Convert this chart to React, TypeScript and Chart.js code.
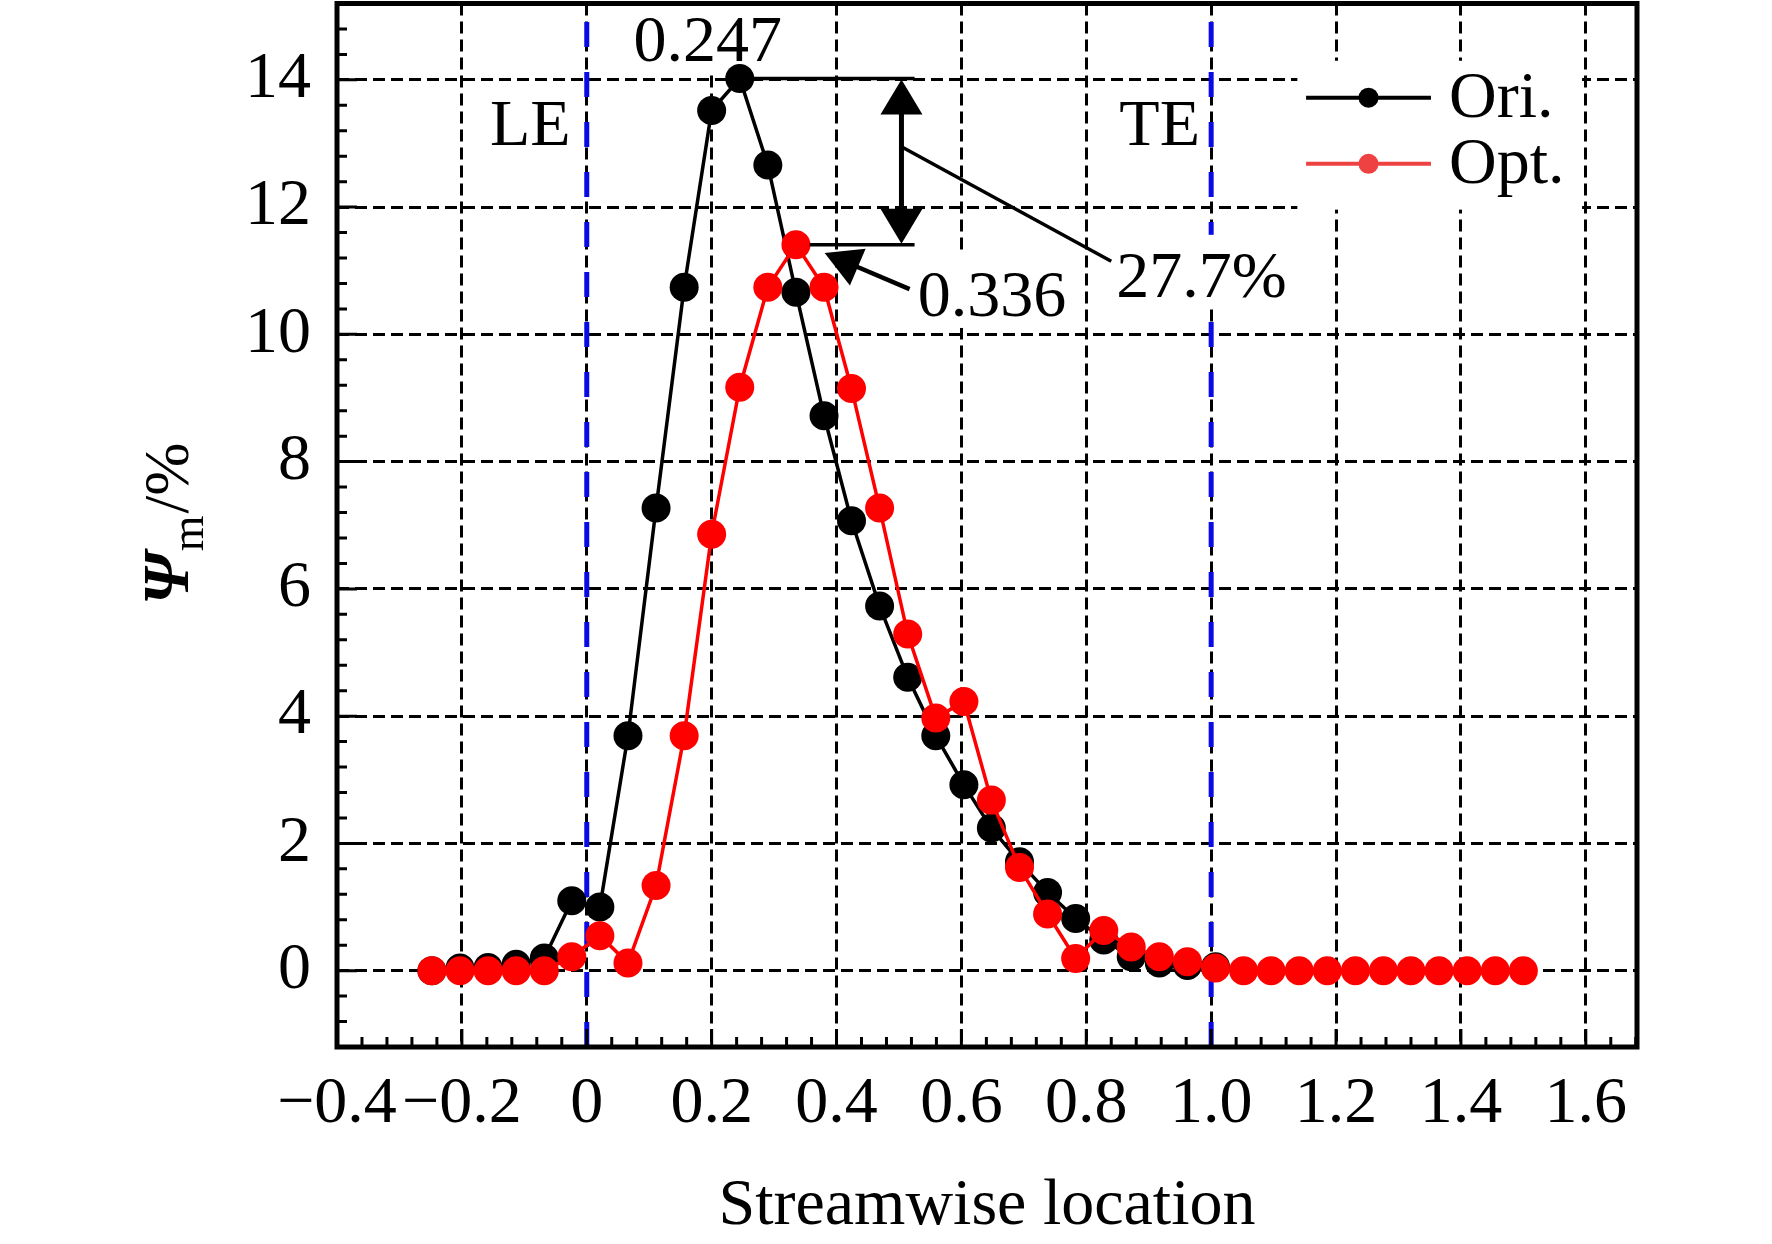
import { useEffect, useRef } from 'react';
import { Chart, registerables } from 'chart.js';

Chart.register(...registerables);

const FONT = '"Liberation Serif", "Times New Roman", serif';

// streamwise position of every sampling point
const locations = [
  -0.248, -0.203, -0.158, -0.113, -0.068, -0.024, 0.021, 0.066, 0.111, 0.156,
  0.2, 0.245, 0.29, 0.335, 0.38, 0.424, 0.469, 0.514, 0.559, 0.604,
  0.648, 0.693, 0.738, 0.783, 0.828, 0.872, 0.917, 0.962, 1.007, 1.052,
  1.096, 1.141, 1.186, 1.231, 1.276, 1.32, 1.365, 1.41, 1.455, 1.5,
];

// Psi_m (%) of the original blade
const oriValues = [
  0.0, 0.04, 0.05, 0.1, 0.2, 1.1, 1.0, 3.69, 7.27, 10.74,
  13.52, 14.02, 12.66, 10.66, 8.72, 7.07, 5.73, 4.61, 3.69, 2.92,
  2.24, 1.71, 1.23, 0.82, 0.48, 0.22, 0.12, 0.08, 0.06,
];

// Psi_m (%) of the optimised blade
const optValues = [
  0.0, 0.0, 0.0, 0.0, 0.0, 0.22, 0.55, 0.12, 1.34, 3.69,
  6.86, 9.17, 10.74, 11.41, 10.74, 9.15, 7.27, 5.29, 3.97, 4.23,
  2.68, 1.62, 0.89, 0.19, 0.63, 0.37, 0.22, 0.14, 0.04, 0.0,
  0.0, 0.0, 0.0, 0.0, 0.0, 0.0, 0.0, 0.0, 0.0, 0.0,
];

const xTicks = [-0.4, -0.2, 0, 0.2, 0.4, 0.6, 0.8, 1.0, 1.2, 1.4, 1.6];
const xTickLabels = ['\u22120.4', '\u22120.2', '0', '0.2', '0.4', '0.6', '0.8', '1.0', '1.2', '1.4', '1.6'];
const yTicks = [0, 2, 4, 6, 8, 10, 12, 14];
const yTickLabels = ['0', '2', '4', '6', '8', '10', '12', '14'];

// leading / trailing edge markers
const edgeLines = [0, 1.0];

const seriesNames = ['Ori.', 'Opt.'];
const lineColors = ['#000000', '#ff0000'];
const legendColors = ['#000000', '#ee4242'];

export default function App() {
  const canvasRef = useRef<HTMLCanvasElement | null>(null);

  useEffect(() => {
    if (!canvasRef.current) return;

    const oriPeak = Math.max(...oriValues);
    const optPeak = Math.max(...optValues);

    const textLabels = [
      { text: '0.247', x: 0.075, y: 14.3, box: true },
      { text: 'LE', x: -0.155, y: 12.98, box: false },
      { text: 'TE', x: 0.853, y: 12.98, box: false },
      { text: '0.336', x: 0.53, y: 10.29, box: true },
      { text: '27.7%', x: 0.848, y: 10.59, box: true },
    ];

    const arrowHead = (ctx: CanvasRenderingContext2D, tx: number, ty: number, fx: number, fy: number, len: number, half: number) => {
      const d = Math.hypot(tx - fx, ty - fy);
      const ux = (tx - fx) / d;
      const uy = (ty - fy) / d;
      const bx = tx - ux * len;
      const by = ty - uy * len;
      ctx.beginPath();
      ctx.moveTo(tx, ty);
      ctx.lineTo(bx - uy * half, by + ux * half);
      ctx.lineTo(bx + uy * half, by - ux * half);
      ctx.closePath();
      ctx.fill();
    };

    const decor = {
      id: 'decor',
      beforeDatasetsDraw(chart: any) {
        const { ctx, chartArea: a, scales } = chart;
        const x = scales.x;
        const y = scales.y;
        ctx.save();
        ctx.strokeStyle = '#0a0ae6';
        ctx.lineWidth = 5;
        ctx.setLineDash([25, 25]);
        for (const v of edgeLines) {
          const px = x.getPixelForValue(v);
          ctx.beginPath();
          ctx.moveTo(px, a.bottom);
          ctx.lineTo(px, a.top);
          ctx.stroke();
        }
        ctx.setLineDash([]);

        ctx.fillStyle = '#ffffff';
        ctx.font = `66px ${FONT}`;
        for (const t of textLabels) {
          if (!t.box) continue;
          const w = ctx.measureText(t.text).width;
          const px = x.getPixelForValue(t.x);
          const py = y.getPixelForValue(t.y);
          ctx.fillRect(px - 6, py - 62, w + 12, 74);
        }
        // legend background
        const lx0 = x.getPixelForValue(1.138);
        const lx1 = x.getPixelForValue(1.594);
        const ly0 = y.getPixelForValue(14.3);
        const ly1 = y.getPixelForValue(11.96);
        ctx.fillRect(lx0, ly0, lx1 - lx0, ly1 - ly0);
        ctx.restore();
      },
      afterDatasetsDraw(chart: any) {
        const { ctx, chartArea: a, scales } = chart;
        const x = scales.x;
        const y = scales.y;
        ctx.save();

        // inward ticks
        ctx.strokeStyle = '#000';
        ctx.lineWidth = 3;
        ctx.beginPath();
        for (let i = 0; ; i++) {
          const v = -0.4 + i * 0.04;
          if (v > x.max + 1e-6) break;
          const px = x.getPixelForValue(v);
          const len = i % 5 === 0 ? 18 : 10;
          ctx.moveTo(px, a.bottom);
          ctx.lineTo(px, a.bottom - len);
        }
        for (let i = 0; ; i++) {
          const v = -1.2 + i * 0.4;
          if (v > y.max + 1e-6) break;
          const py = y.getPixelForValue(v);
          const len = (i - 3) % 5 === 0 ? 20 : 10;
          ctx.moveTo(a.left, py);
          ctx.lineTo(a.left + len, py);
        }
        ctx.stroke();

        // frame
        ctx.lineWidth = 5;
        ctx.strokeRect(a.left, a.top, a.right - a.left, a.bottom - a.top);

        // peak difference annotation
        ctx.fillStyle = '#000';
        ctx.lineWidth = 3.5;
        const yo = y.getPixelForValue(oriPeak);
        const yp = y.getPixelForValue(optPeak);
        ctx.beginPath();
        ctx.moveTo(x.getPixelForValue(0.266), yo);
        ctx.lineTo(x.getPixelForValue(0.525), yo);
        ctx.moveTo(x.getPixelForValue(0.357), yp);
        ctx.lineTo(x.getPixelForValue(0.525), yp);
        ctx.stroke();

        const ax = x.getPixelForValue(0.504);
        ctx.lineWidth = 5;
        ctx.beginPath();
        ctx.moveTo(ax, yo + 20);
        ctx.lineTo(ax, yp - 20);
        ctx.stroke();
        arrowHead(ctx, ax, yo + 1, ax, yp, 35, 21);
        arrowHead(ctx, ax, yp - 1, ax, yo, 35, 21);

        ctx.lineWidth = 3.5;
        ctx.beginPath();
        ctx.moveTo(ax, y.getPixelForValue(12.95));
        ctx.lineTo(x.getPixelForValue(0.84), y.getPixelForValue(11.15));
        ctx.stroke();

        const tipX = x.getPixelForValue(0.381);
        const tipY = y.getPixelForValue(11.28);
        const tailX = x.getPixelForValue(0.517);
        const tailY = y.getPixelForValue(10.71);
        ctx.lineWidth = 4.5;
        ctx.beginPath();
        ctx.moveTo(tailX, tailY);
        const d = Math.hypot(tipX - tailX, tipY - tailY);
        ctx.lineTo(tipX + ((tailX - tipX) / d) * 30, tipY + ((tailY - tipY) / d) * 30);
        ctx.stroke();
        arrowHead(ctx, tipX, tipY, tailX, tailY, 36, 20);

        // text labels
        ctx.font = `66px ${FONT}`;
        ctx.textBaseline = 'alphabetic';
        ctx.textAlign = 'left';
        for (const t of textLabels) {
          ctx.fillText(t.text, x.getPixelForValue(t.x), y.getPixelForValue(t.y));
        }

        // legend
        const rows = [13.72, 12.68];
        rows.forEach((rv, i) => {
          const py = y.getPixelForValue(rv);
          const x0 = x.getPixelForValue(1.152);
          const x1 = x.getPixelForValue(1.352);
          ctx.strokeStyle = legendColors[i];
          ctx.fillStyle = legendColors[i];
          ctx.lineWidth = 4;
          ctx.beginPath();
          ctx.moveTo(x0, py);
          ctx.lineTo(x1, py);
          ctx.stroke();
          ctx.beginPath();
          ctx.arc((x0 + x1) / 2, py, 10, 0, Math.PI * 2);
          ctx.fill();
          ctx.fillStyle = '#000';
          ctx.fillText(seriesNames[i], x.getPixelForValue(1.381), py + 19);
        });

        // y axis title: Psi_m/%
        const cy = (a.top + a.bottom) / 2;
        ctx.translate(a.left - 149, cy);
        ctx.rotate(-Math.PI / 2);
        const fPsi = `italic bold 66px ${FONT}`;
        const fSub = `46px ${FONT}`;
        const fRest = `64px ${FONT}`;
        ctx.font = fPsi;
        const wPsi = ctx.measureText('\u03a8').width;
        ctx.font = fSub;
        const wSub = ctx.measureText('m').width;
        ctx.font = fRest;
        const wRest = ctx.measureText('/%').width;
        let sx = -(wPsi + wSub + wRest) / 2;
        ctx.font = fPsi;
        ctx.fillText('\u03a8', sx, 0);
        sx += wPsi + 1;
        ctx.font = fSub;
        ctx.fillText('m', sx, 15);
        sx += wSub + 2;
        ctx.font = fRest;
        ctx.fillText('/%', sx, 0);

        ctx.restore();
      },
    };

    const tickFont = { family: FONT, size: 66, lineHeight: 1 };

    const chart = new Chart(canvasRef.current, {
      type: 'line',
      data: {
        datasets: [
          {
            label: seriesNames[0],
            data: oriValues.map((v, i) => ({ x: locations[i], y: v })),
            borderColor: lineColors[0],
            backgroundColor: lineColors[0],
            borderWidth: 3.5,
            pointRadius: 14.5,
            pointBorderWidth: 0,
            pointBackgroundColor: lineColors[0],
            tension: 0,
            order: 2,
          },
          {
            label: seriesNames[1],
            data: optValues.map((v, i) => ({ x: locations[i], y: v })),
            borderColor: lineColors[1],
            backgroundColor: lineColors[1],
            borderWidth: 3.5,
            pointRadius: 14.5,
            pointBorderWidth: 0,
            pointBackgroundColor: lineColors[1],
            tension: 0,
            order: 1,
          },
        ],
      },
      options: {
        animation: false,
        responsive: true,
        maintainAspectRatio: false,
        layout: { padding: { top: 0, right: 135, left: 0, bottom: 0 } },
        plugins: { legend: { display: false }, tooltip: { enabled: false } },
        scales: {
          x: {
            type: 'linear',
            min: -0.4,
            max: 1.682,
            afterBuildTicks: (s: any) => {
              s.ticks = xTicks.map((value) => ({ value }));
            },
            afterFit: (s: any) => {
              s.height = 197;
              s.paddingLeft = 0;
              s.paddingRight = 0;
            },
            ticks: {
              autoSkip: false,
              maxRotation: 0,
              padding: 25,
              color: '#000',
              font: tickFont,
              callback: (_v: any, i: number) => xTickLabels[i],
            },
            grid: { color: '#000', lineWidth: 3, drawTicks: false },
            border: { display: false, dash: [12, 6] },
            title: {
              display: true,
              text: 'Streamwise location',
              color: '#000',
              font: tickFont,
              padding: { top: 0, bottom: 4 },
            },
          },
          y: {
            type: 'linear',
            min: -1.2,
            max: 15.2,
            afterBuildTicks: (s: any) => {
              s.ticks = yTicks.map((value) => ({ value }));
            },
            afterFit: (s: any) => {
              s.width = 337;
              s.paddingTop = 0;
              s.paddingBottom = 0;
            },
            ticks: {
              autoSkip: false,
              padding: 26,
              color: '#000',
              font: tickFont,
              callback: (_v: any, i: number) => yTickLabels[i],
            },
            grid: { color: '#000', lineWidth: 3, drawTicks: false },
            border: { display: false, dash: [12, 6] },
          },
        },
      },
      plugins: [decor],
    });

    return () => {
      chart.destroy();
    };
  }, []);

  return (
    <div style={{ position: 'fixed', left: 0, top: -11, width: 1772, height: 1255, background: '#fff' }}>
      <canvas ref={canvasRef}></canvas>
    </div>
  );
}
